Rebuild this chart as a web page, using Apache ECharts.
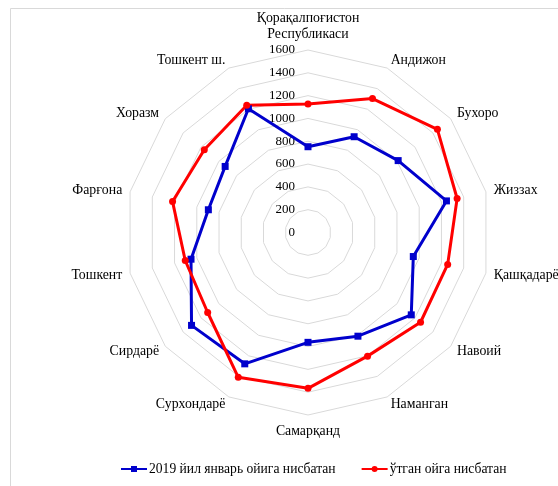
<!DOCTYPE html>
<html>
<head>
<meta charset="utf-8">
<script src="https://cdn.jsdelivr.net/npm/echarts@6/dist/echarts.min.js"></script>
<style>html,body{margin:0;padding:0;background:#fff}#c{width:558px;height:486px}</style>
</head>
<body>
<div id="c"></div>
<script>
// Categories in clockwise order starting at the top
const categories = ['Қорақалпоғистон\nРеспубликаси','Андижон','Бухоро','Жиззах','Қашқадарё','Навоий','Наманган','Самарқанд','Сурхондарё','Сирдарё','Тошкент','Фарғона','Хоразм','Тошкент ш.'];
const seriesNames = ['2019 йил январь ойига нисбатан','ўтган ойга нисбатан'];
const valuesJan2019 = [752, 932, 1011, 1245, 947, 1158, 1009, 963, 1278, 1306, 1052, 896, 929, 1204];
const valuesPrevMonth = [1127, 1303, 1451, 1341, 1256, 1262, 1203, 1366, 1409, 1125, 1104, 1218, 1163, 1238];
const axisMax = 1600;
const axisStep = 200;

// ECharts radar goes counter-clockwise; reorder so the picture runs clockwise
const order = [0];
for (let i = categories.length - 1; i >= 1; i--) order.push(i);
const reorder = arr => order.map(i => arr[i]);

const indicator = reorder(categories).map((n, k) => {
  const o = { name: n, min: 0, max: axisMax };
  if (k === 0) o.axisLabel = { show: true };
  return o;
});

const serif = 'Liberation Serif, Times New Roman, serif';
const chart = echarts.init(document.getElementById('c'));
chart.setOption({
  animation: false,
  graphic: [
    { type: 'line', shape: { x1: 10.5, y1: 8.5, x2: 558, y2: 8.5 }, style: { stroke: '#d9d9d9', lineWidth: 1 } },
    { type: 'line', shape: { x1: 10.5, y1: 8.5, x2: 10.5, y2: 486 }, style: { stroke: '#d9d9d9', lineWidth: 1 } }
  ],
  legend: {
    bottom: 5,
    left: 116,
    itemGap: 26,
    itemWidth: 26,
    itemHeight: 8,
    textStyle: { fontFamily: serif, fontSize: 13.6, color: '#000', padding: [0, 0, 0, -3] },
    data: [
      { name: seriesNames[0], icon: 'path://M0,3L26,3L26,5L0,5Z M10,1L16,1L16,7L10,7Z' },
      { name: seriesNames[1], icon: 'path://M0,3L26,3L26,5L0,5Z M13,1A3,3 0 1 1 12.99,1Z' }
    ]
  },
  radar: {
    center: [308, 232.5],
    radius: 182.5,
    startAngle: 90,
    shape: 'polygon',
    splitNumber: axisMax / axisStep,
    nameGap: 8,
    axisName: { color: '#000', fontFamily: serif, fontSize: 13.8, lineHeight: 16 },
    axisLine: { show: false },
    axisTick: { show: false },
    splitArea: { show: false },
    splitLine: { lineStyle: { color: '#d9d9d9', width: 1 } },
    axisLabel: { show: false, color: '#000', fontFamily: serif, fontSize: 13, margin: 13,
      formatter: v => String(v) },
    indicator: indicator
  },
  series: [{
    type: 'radar',
    data: [
      { name: seriesNames[0], value: reorder(valuesJan2019), symbol: 'rect', symbolSize: 7,
        lineStyle: { color: '#0000cc', width: 3 }, itemStyle: { color: '#0000cc' } },
      { name: seriesNames[1], value: reorder(valuesPrevMonth), symbol: 'circle', symbolSize: 7,
        lineStyle: { color: '#ff0000', width: 3 }, itemStyle: { color: '#ff0000' } }
    ]
  }]
});
</script>
</body>
</html>
